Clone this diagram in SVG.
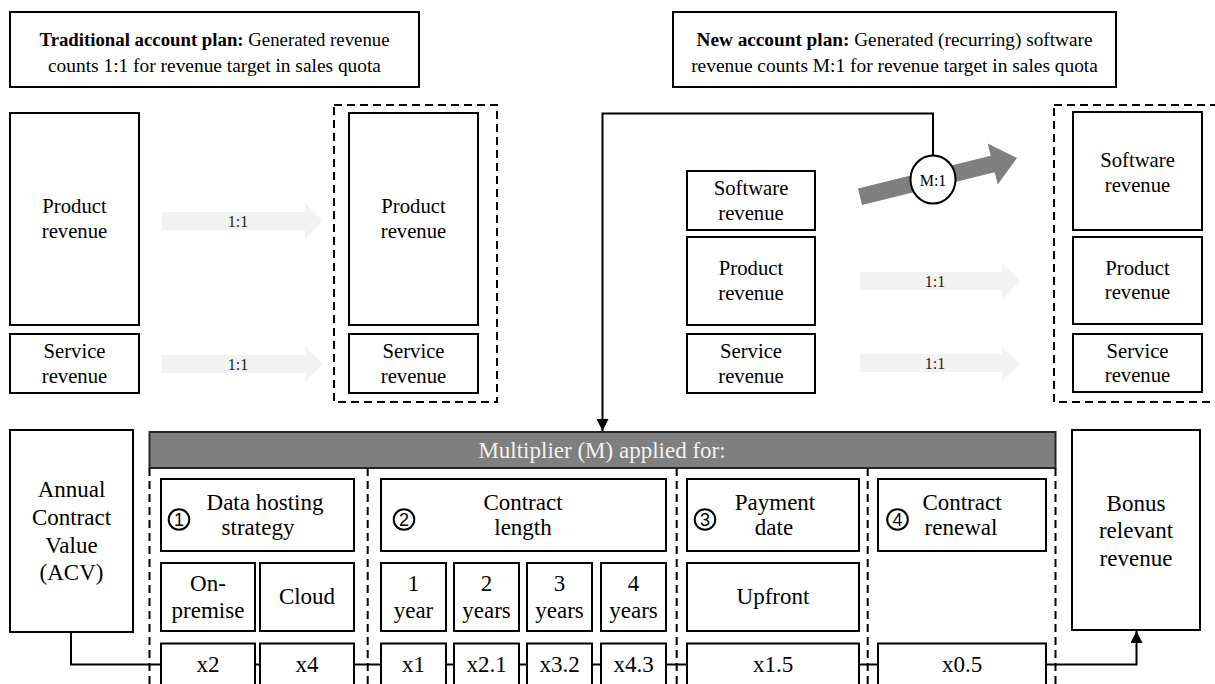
<svg xmlns="http://www.w3.org/2000/svg" width="1215" height="684" viewBox="0 0 1215 684">
  <style>
    .box { fill: #ffffff; stroke: #000000; stroke-width: 2; }
    .grp { fill: none; stroke: #000000; stroke-width: 2; stroke-dasharray: 8 5; }
    .sep { fill: none; stroke: #000000; stroke-width: 2; stroke-dasharray: 8 5; }
    .line { fill: none; stroke: #000000; stroke-width: 2; }
    .t { font-family: "Liberation Serif", "Times New Roman", serif; fill: #000000; text-anchor: middle; }
    .s19 { font-size: 19.4px; }
    .s21 { font-size: 20.7px; }
    .s23 { font-size: 23px; }
    .lbl { font-family: "Liberation Serif", "Times New Roman", serif; font-size: 16px; fill: #222222; text-anchor: middle; }
    .num { font-family: "Liberation Sans", Arial, sans-serif; font-size: 18px; fill: #000000; text-anchor: middle; }
    .ring { fill: #ffffff; stroke: #000000; stroke-width: 2; }
    .light { fill: #f2f2f2; }
  </style>
  <defs>
    <marker id="head" viewBox="0 0 12 12" refX="12" refY="6" markerWidth="12" markerHeight="12" markerUnits="userSpaceOnUse" orient="auto">
      <path d="M0,0 L12,6 L0,12 Z" fill="#000000"/>
    </marker>
  </defs>

  <rect width="1215" height="684" fill="#ffffff"/>

  <!-- Title boxes -->
  <g id="title-traditional">
    <rect class="box" x="10" y="12" width="409" height="75"/>
    <text class="t s19" x="214.5" y="46" textLength="350" lengthAdjust="spacingAndGlyphs"><tspan font-weight="bold">Traditional account plan:</tspan> Generated revenue</text>
    <text class="t s19" x="214.5" y="72">counts 1:1 for revenue target in sales quota</text>
  </g>
  <g id="title-new">
    <rect class="box" x="673" y="12" width="443" height="75"/>
    <text class="t s19" x="894.5" y="46" textLength="396" lengthAdjust="spacingAndGlyphs"><tspan font-weight="bold">New account plan:</tspan> Generated (recurring) software</text>
    <text class="t s19" x="894.5" y="72">revenue counts M:1 for revenue target in sales quota</text>
  </g>

  <!-- Traditional plan: generated revenue -->
  <g id="trad-product">
    <rect class="box" x="10" y="113" width="129" height="212"/>
    <text class="t s21" x="74.5" y="213">Product</text>
    <text class="t s21" x="74.5" y="238">revenue</text>
  </g>
  <g id="trad-service">
    <rect class="box" x="10" y="334" width="129" height="59"/>
    <text class="t s21" x="74.5" y="358">Service</text>
    <text class="t s21" x="74.5" y="383">revenue</text>
  </g>

  <!-- Traditional plan: quota -->
  <g id="trad-quota">
    <rect class="grp" x="334" y="105" width="163" height="297"/>
  </g>
  <g id="trad-quota-product">
    <rect class="box" x="349" y="113" width="129" height="212"/>
    <text class="t s21" x="413.5" y="213">Product</text>
    <text class="t s21" x="413.5" y="238">revenue</text>
  </g>
  <g id="trad-quota-service">
    <rect class="box" x="349" y="334" width="129" height="59"/>
    <text class="t s21" x="413.5" y="358">Service</text>
    <text class="t s21" x="413.5" y="383">revenue</text>
  </g>

  <!-- New plan: generated revenue -->
  <g id="new-software">
    <rect class="box" x="687" y="171" width="128" height="59"/>
    <text class="t s21" x="751" y="195">Software</text>
    <text class="t s21" x="751" y="220">revenue</text>
  </g>
  <g id="new-product">
    <rect class="box" x="687" y="237" width="128" height="88"/>
    <text class="t s21" x="751" y="275">Product</text>
    <text class="t s21" x="751" y="300">revenue</text>
  </g>
  <g id="new-service">
    <rect class="box" x="687" y="334" width="128" height="59"/>
    <text class="t s21" x="751" y="358">Service</text>
    <text class="t s21" x="751" y="383">revenue</text>
  </g>

  <!-- New plan: quota -->
  <g id="new-quota">
    <rect class="grp" x="1054" y="105" width="170" height="297"/>
  </g>
  <g id="new-quota-software">
    <rect class="box" x="1073" y="112" width="129" height="118"/>
    <text class="t s21" x="1137.5" y="167">Software</text>
    <text class="t s21" x="1137.5" y="192">revenue</text>
  </g>
  <g id="new-quota-product">
    <rect class="box" x="1073" y="237" width="129" height="87"/>
    <text class="t s21" x="1137.5" y="275">Product</text>
    <text class="t s21" x="1137.5" y="299">revenue</text>
  </g>
  <g id="new-quota-service">
    <rect class="box" x="1073" y="334" width="129" height="58"/>
    <text class="t s21" x="1137.5" y="358">Service</text>
    <text class="t s21" x="1137.5" y="382">revenue</text>
  </g>

  <!-- Multiplier section -->
  <g id="acv">
    <rect class="box" x="10" y="430" width="123" height="202"/>
    <text class="t s23" x="71.5" y="497">Annual</text>
    <text class="t s23" x="71.5" y="525">Contract</text>
    <text class="t s23" x="71.5" y="553">Value</text>
    <text class="t s23" x="71.5" y="580">(ACV)</text>
  </g>
  <g id="multiplier-bar">
    <rect x="149.5" y="432" width="906" height="36" fill="#7f7f7f" stroke="#262626" stroke-width="2"/>
    <text class="t s23" x="602" y="458" style="fill:#f2f2f2">Multiplier (M) applied for:</text>
  </g>
  <g id="separators">
    <line class="sep" x1="149.5" y1="468" x2="149.5" y2="684"/>
    <line class="sep" x1="367.7" y1="468" x2="367.7" y2="684"/>
    <line class="sep" x1="676.7" y1="468" x2="676.7" y2="684"/>
    <line class="sep" x1="867.7" y1="468" x2="867.7" y2="684"/>
    <line class="sep" x1="1055.5" y1="468" x2="1055.5" y2="684"/>
  </g>

  <!-- 1 Data hosting strategy -->
  <g id="hosting">
    <rect class="box" x="161" y="479" width="193" height="72"/>
    <circle class="ring" cx="179" cy="519.5" r="10.3"/>
    <text class="num" x="179" y="526">1</text>
    <text class="t s23" x="265" y="510">Data hosting</text>
    <text class="t s23" x="258" y="535">strategy</text>
  </g>
  <g id="on-premise">
    <rect class="box" x="161" y="563" width="94" height="68"/>
    <text class="t s23" x="208" y="591">On-</text>
    <text class="t s23" x="208" y="618">premise</text>
  </g>
  <g id="cloud">
    <rect class="box" x="260" y="563" width="94" height="68"/>
    <text class="t s23" x="307" y="604">Cloud</text>
  </g>
  <g id="m-x2">
    <rect class="box" x="161" y="643.5" width="94" height="50"/>
    <text class="t s23" x="208" y="672">x2</text>
  </g>
  <g id="m-x4">
    <rect class="box" x="260" y="643.5" width="94" height="50"/>
    <text class="t s23" x="307" y="672">x4</text>
  </g>

  <!-- 2 Contract length -->
  <g id="length">
    <rect class="box" x="381" y="479" width="285" height="72"/>
    <circle class="ring" cx="404" cy="519.5" r="10.3"/>
    <text class="num" x="404" y="526">2</text>
    <text class="t s23" x="523" y="510">Contract</text>
    <text class="t s23" x="523" y="535">length</text>
  </g>
  <g id="year-1">
    <rect class="box" x="381" y="563" width="65" height="68"/>
    <text class="t s23" x="413.5" y="591">1</text>
    <text class="t s23" x="413.5" y="618">year</text>
  </g>
  <g id="year-2">
    <rect class="box" x="454" y="563" width="65" height="68"/>
    <text class="t s23" x="486.5" y="591">2</text>
    <text class="t s23" x="486.5" y="618">years</text>
  </g>
  <g id="year-3">
    <rect class="box" x="527" y="563" width="65" height="68"/>
    <text class="t s23" x="559.5" y="591">3</text>
    <text class="t s23" x="559.5" y="618">years</text>
  </g>
  <g id="year-4">
    <rect class="box" x="601" y="563" width="65" height="68"/>
    <text class="t s23" x="633.5" y="591">4</text>
    <text class="t s23" x="633.5" y="618">years</text>
  </g>
  <g id="m-x1">
    <rect class="box" x="381" y="643.5" width="65" height="50"/>
    <text class="t s23" x="413.5" y="672">x1</text>
  </g>
  <g id="m-x2-1">
    <rect class="box" x="454" y="643.5" width="65" height="50"/>
    <text class="t s23" x="486.5" y="672">x2.1</text>
  </g>
  <g id="m-x3-2">
    <rect class="box" x="527" y="643.5" width="65" height="50"/>
    <text class="t s23" x="559.5" y="672">x3.2</text>
  </g>
  <g id="m-x4-3">
    <rect class="box" x="601" y="643.5" width="65" height="50"/>
    <text class="t s23" x="633.5" y="672">x4.3</text>
  </g>

  <!-- 3 Payment date -->
  <g id="payment">
    <rect class="box" x="687" y="479" width="172" height="72"/>
    <circle class="ring" cx="705" cy="519.5" r="10.3"/>
    <text class="num" x="705" y="526">3</text>
    <text class="t s23" x="775" y="510">Payment</text>
    <text class="t s23" x="774" y="535">date</text>
  </g>
  <g id="upfront">
    <rect class="box" x="687" y="563" width="172" height="68"/>
    <text class="t s23" x="773" y="604">Upfront</text>
  </g>
  <g id="m-x1-5">
    <rect class="box" x="687" y="643.5" width="172" height="50"/>
    <text class="t s23" x="773" y="672">x1.5</text>
  </g>

  <!-- 4 Contract renewal -->
  <g id="renewal">
    <rect class="box" x="878" y="479" width="168" height="72"/>
    <circle class="ring" cx="897.5" cy="519.5" r="10.3"/>
    <text class="num" x="897.5" y="526">4</text>
    <text class="t s23" x="962" y="510">Contract</text>
    <text class="t s23" x="961" y="535">renewal</text>
  </g>
  <g id="m-x0-5">
    <rect class="box" x="878" y="643.5" width="168" height="50"/>
    <text class="t s23" x="962" y="672">x0.5</text>
  </g>

  <g id="bonus">
    <rect class="box" x="1072" y="430" width="128" height="200"/>
    <text class="t s23" x="1136" y="511">Bonus</text>
    <text class="t s23" x="1136" y="538">relevant</text>
    <text class="t s23" x="1136" y="566">revenue</text>
  </g>

  <!-- Connectors -->
  <g id="connectors">
    <!-- 1:1 transfers -->
    <polygon class="light" points="162,212 305,212 305,203 323,221 305,239 305,230 162,230"/>
    <text class="lbl" x="238" y="227">1:1</text>
    <polygon class="light" points="162,355 305,355 305,346 323,364 305,382 305,373 162,373"/>
    <text class="lbl" x="238" y="370">1:1</text>
    <polygon class="light" points="860,272 1002,272 1002,263 1020,281 1002,299 1002,290 860,290"/>
    <text class="lbl" x="935" y="287">1:1</text>
    <polygon class="light" points="860,354 1002,354 1002,346 1020,364 1002,382 1002,372 860,372"/>
    <text class="lbl" x="935" y="369">1:1</text>

    <!-- M:1 transfer -->
    <polygon fill="#7f7f7f" points="858,188.5 990.7,155.7 987.7,143.6 1017,158 997.7,184.4 994.7,172.2 862,205"/>
    <polyline class="line" points="933,155.5 933,113.5 602.5,113.5 602.5,431" marker-end="url(#head)"/>
    <ellipse class="ring" cx="933" cy="179.5" rx="22.5" ry="24"/>
    <text class="lbl" x="933" y="185.5" style="fill:#000000">M:1</text>

    <!-- Multiplier chain -->
    <polyline class="line" points="71,632 71,664.5 161,664.5"/>
    <line class="line" x1="255" y1="664.5" x2="260" y2="664.5"/>
    <line class="line" x1="354" y1="664.5" x2="381" y2="664.5"/>
    <line class="line" x1="446" y1="664.5" x2="454" y2="664.5"/>
    <line class="line" x1="519" y1="664.5" x2="527" y2="664.5"/>
    <line class="line" x1="592" y1="664.5" x2="601" y2="664.5"/>
    <line class="line" x1="666" y1="664.5" x2="687" y2="664.5"/>
    <line class="line" x1="859" y1="664.5" x2="878" y2="664.5"/>
    <polyline class="line" points="1046,664.5 1136.5,664.5 1136.5,631" marker-end="url(#head)"/>
  </g>
</svg>
